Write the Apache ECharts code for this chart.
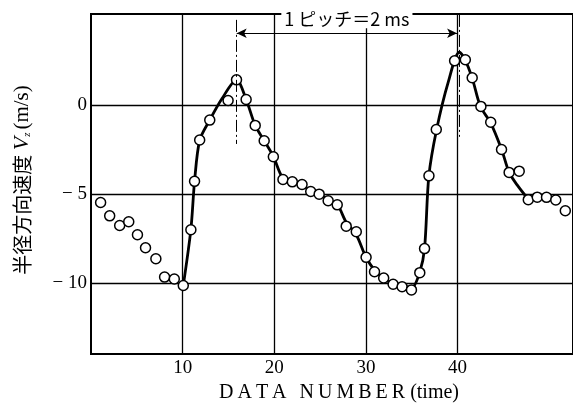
<!DOCTYPE html>
<html>
<head>
<meta charset="utf-8">
<script src="https://cdn.jsdelivr.net/npm/echarts@6/dist/echarts.min.js"></script>
<style>
  html, body { margin: 0; padding: 0; background: #fff; }
  #chart { width: 573px; height: 408px; }
</style>
</head>
<body>
<div id="chart"></div>
<script>
// measured points: [data number, Vz (m/s)]
const measured = [
  [1.05, -5.49], [2.04, -6.24], [3.13, -6.78], [4.12, -6.57], [5.07, -7.3],
  [5.95, -8.03], [7.08, -8.65], [8.03, -9.68], [9.09, -9.79], [10.07, -10.15],
  [10.9, -7.02], [11.3, -4.3], [11.86, -1.98], [12.96, -0.86], [14.96, 0.24],
  [15.88, 1.4], [16.93, 0.3], [17.92, -1.16], [18.9, -2.02], [19.9, -2.92],
  [20.95, -4.2], [21.97, -4.33], [23.03, -4.48], [23.98, -4.87], [24.9, -5.02],
  [25.88, -5.39], [26.87, -5.62], [27.85, -6.82], [28.95, -7.13], [30.02, -8.57],
  [30.94, -9.38], [31.94, -9.73], [32.97, -10.08], [33.95, -10.22], [34.97, -10.4],
  [35.88, -9.43], [36.4, -8.08], [36.88, -3.99], [37.68, -1.39], [39.68, 2.47],
  [40.85, 2.53], [41.6, 1.52], [42.55, -0.09], [43.62, -0.98], [44.8, -2.51],
  [45.63, -3.8], [46.73, -3.73], [47.72, -5.33], [48.7, -5.19], [49.71, -5.2],
  [50.72, -5.35], [51.76, -5.95]
];

// fitted curve knots
const fitted = [
  [10.07, -10.15], [10.9, -7.0], [11.3, -4.3], [11.86, -2.0], [12.96, -0.86],
  [14.3, 0.35], [15.88, 1.4], [16.93, 0.3], [17.92, -1.16], [18.9, -2.02],
  [19.9, -2.9], [20.92, -4.1], [21.97, -4.3], [23.0, -4.5], [24.0, -4.85],
  [24.9, -5.0], [25.9, -5.35], [26.87, -5.6], [27.85, -6.6], [28.95, -7.3],
  [30.0, -8.55], [30.96, -9.3], [31.94, -9.75], [32.97, -10.05], [33.95, -10.15],
  [34.97, -10.3], [35.88, -9.4], [36.4, -8.07], [36.87, -4.0], [37.71, -1.4],
  [39.0, 1.3], [40.2, 2.95], [40.85, 2.5], [41.6, 1.5], [42.5, -0.1],
  [43.6, -1.0], [44.8, -2.5], [45.63, -3.8], [46.5, -4.5], [47.7, -5.3]
];

const xTicks = [10, 20, 30, 40];
const yTicks = [0, -5, -10];

// annotation: pitch span arrow and the two dash-dot markers
const pitchSpan = [15.9, 39.95];
const pitchY = 4.02;
const pitchText = "1 ピッチ＝2 ms";
const markerX = [15.83, 40.2];
const markerTop = [4.77, 5.05];
const markerBottom = [-2.2, -1.8];

const serif = "'Liberation Serif', 'DejaVu Serif', serif";
const jp = "'Noto Sans CJK JP', sans-serif";
const thin = "\u2009";

const chart = echarts.init(document.getElementById("chart"));

const markerLines = markerX.map((x, i) => [
  { coord: [x, markerTop[i]], symbol: "none" },
  { coord: [x, markerBottom[i]], symbol: "none", lineStyle: { type: [12, 3, 2, 3], width: 1 }, label: { show: false } }
]);

const option = {
  animation: false,
  backgroundColor: "#fff",
  grid: {
    left: 91,
    right: -2,
    top: 14,
    bottom: 54,
    show: true,
    borderColor: "#000",
    borderWidth: 2,
    backgroundColor: "transparent"
  },
  xAxis: {
    type: "value",
    min: 0,
    max: 52.6,
    name: "DATA NUMBER".split("").join(thin) + " (time)",
    nameLocation: "middle",
    nameGap: 22,
    nameTextStyle: { fontFamily: serif, fontSize: 20, color: "#000", padding: [0, 0, 0, 14] },
    axisLine: { show: true, onZero: false, lineStyle: { color: "#000", width: 2 } },
    axisTick: { show: false, customValues: xTicks },
    axisLabel: {
      customValues: xTicks,
      fontFamily: serif,
      fontSize: 19,
      color: "#000",
      margin: 5
    },
    splitLine: { show: true, lineStyle: { color: "#000", width: 1.3 } }
  },
  yAxis: {
    type: "value",
    min: -14,
    max: 5.1,
    name: "{a|半径方向速度 }{v|V}{s|z}{b|(m/s)}",
    nameLocation: "middle",
    nameGap: 58,
    nameRotate: 90,
    nameTextStyle: {
      color: "#000",
      padding: [0, 0, 0, 8],
      rich: {
        a: { fontFamily: jp, fontSize: 20, color: "#000" },
        v: { fontFamily: serif, fontSize: 22, fontStyle: "italic", color: "#000" },
        s: { fontFamily: serif, fontSize: 11, fontStyle: "italic", color: "#000", verticalAlign: "bottom", padding: [10, 3, 0, 0] },
        b: { fontFamily: serif, fontSize: 21, color: "#000" }
      }
    },
    axisLine: { show: true, onZero: false, lineStyle: { color: "#000", width: 2 } },
    axisTick: { show: false, customValues: yTicks },
    axisLabel: {
      customValues: yTicks,
      fontFamily: serif,
      fontSize: 19,
      color: "#000",
      margin: 4,
      formatter: (v) => (v < 0 ? "\u2212 " + Math.abs(v) : String(v))
    },
    splitLine: { show: true, lineStyle: { color: "#000", width: 1.3 } }
  },
  series: [
    {
      type: "line",
      data: fitted,
      smooth: 0.3,
      showSymbol: false,
      z: 2,
      lineStyle: { color: "#000", width: 2.8 },
      markLine: {
        silent: true,
        symbol: ["arrow", "arrow"],
        symbolSize: [7, 10],
        lineStyle: { color: "#000", width: 1, type: "solid" },
        label: {
          show: true,
          position: "middle",
          formatter: pitchText,
          fontFamily: jp,
          fontSize: 18,
          color: "#000",
          backgroundColor: "#fff",
          padding: [0, 3]
        },
        data: [
          [{ coord: [pitchSpan[0], pitchY] }, { coord: [pitchSpan[1], pitchY] }],
          ...markerLines
        ]
      }
    },
    {
      type: "scatter",
      data: measured,
      symbol: "circle",
      symbolSize: 10,
      z: 3,
      itemStyle: { color: "#fff", opacity: 1, borderColor: "#000", borderWidth: 1.5 }
    }
  ]
};

chart.setOption(option);
</script>
</body>
</html>
